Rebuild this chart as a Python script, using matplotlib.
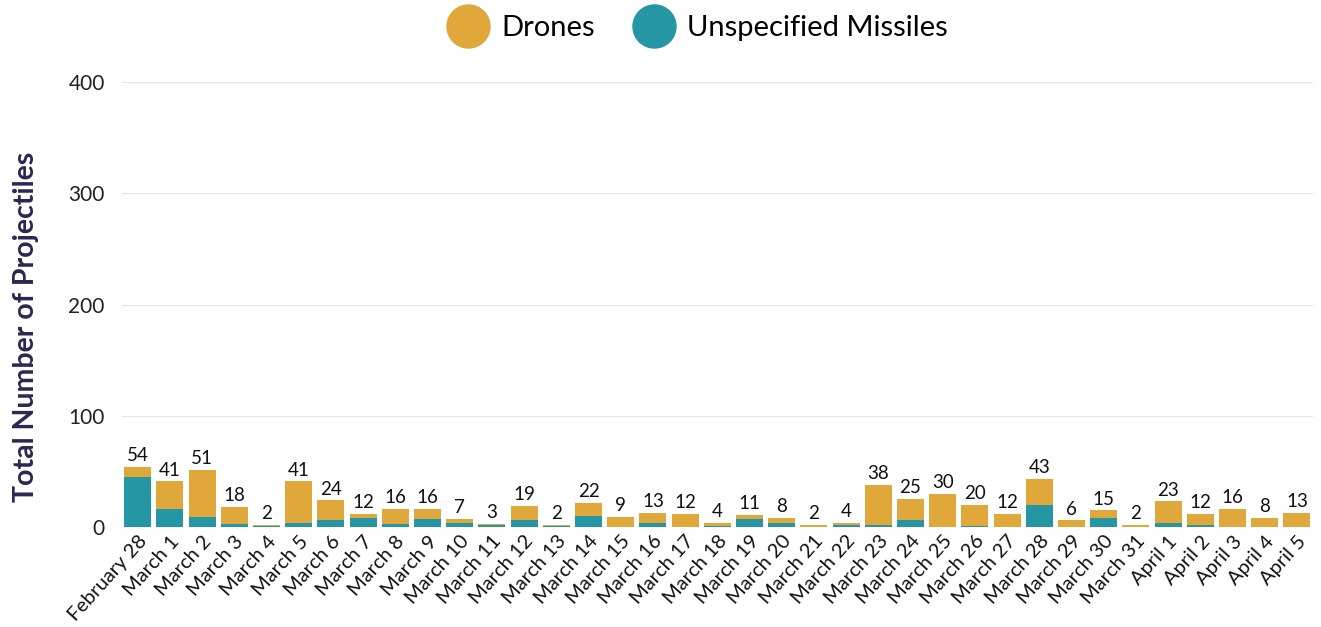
import matplotlib
matplotlib.use("Agg")
import matplotlib.pyplot as plt
from matplotlib.lines import Line2D
import numpy as np

# Data
dates = [
    "February 28", "March 1", "March 2", "March 3", "March 4", "March 5",
    "March 6", "March 7", "March 8", "March 9", "March 10", "March 11",
    "March 12", "March 13", "March 14", "March 15", "March 16", "March 17",
    "March 18", "March 19", "March 20", "March 21", "March 22", "March 23",
    "March 24", "March 25", "March 26", "March 27", "March 28", "March 29",
    "March 30", "March 31", "April 1", "April 2", "April 3", "April 4", "April 5",
]
missiles = [45, 16, 9, 3, 1, 4, 6, 8, 3, 7, 4, 2, 6, 1, 10, 0, 4, 0, 1, 7,
            4, 0, 2, 2, 6, 0, 1, 0, 20, 0, 8, 0, 4, 2, 0, 0, 0]
totals = [54, 41, 51, 18, 2, 41, 24, 12, 16, 16, 7, 3, 19, 2, 22, 9, 13, 12, 4,
          11, 8, 2, 4, 38, 25, 30, 20, 12, 43, 6, 15, 2, 23, 12, 16, 8, 13]
drones = [t - m for t, m in zip(totals, missiles)]

DRONE_COLOR = "#E0A83A"
MISSILE_COLOR = "#2596A4"
NAVY = "#2B2652"

plt.rcParams["font.family"] = ["Lato", "DejaVu Sans"]

fig = plt.figure(figsize=(13.21, 6.27), dpi=100)
ax = fig.add_axes([0.092, 0.1595, 0.902, 0.7097])

x = np.arange(len(dates))
w = 0.84
ax.bar(x, missiles, width=w, color=MISSILE_COLOR, zorder=3)
ax.bar(x, drones, width=w, bottom=missiles, color=DRONE_COLOR, zorder=3)

for xi, t in zip(x, totals):
    ax.text(xi, t + 2.5, str(t), ha="center", va="bottom", fontsize=13.5,
            color="#111111")

ax.set_ylim(0, 400)
ax.set_xlim(-0.5, len(dates) - 0.5)
ax.set_yticks([0, 100, 200, 300, 400])
ax.yaxis.grid(True, color="#E6E6E6", linewidth=0.9, zorder=0)
ax.tick_params(axis="y", length=0, pad=12, labelsize=15, labelcolor="#222222")
ax.tick_params(axis="x", length=0, pad=4, labelsize=14.5, labelcolor="#111111")
ax.set_xticks(x)
ax.set_xticklabels(dates, rotation=48, ha="right", rotation_mode="anchor")
for s in ax.spines.values():
    s.set_visible(False)

ax.set_ylabel("Total Number of Projectiles", fontsize=20.5, fontweight="bold",
              color=NAVY, va="center")
ax.yaxis.set_label_coords(-0.080, 0.449)

handles = [
    Line2D([], [], marker="o", linestyle="none", markersize=32,
           markerfacecolor=DRONE_COLOR, markeredgecolor="none", label="Drones"),
    Line2D([], [], marker="o", linestyle="none", markersize=32,
           markerfacecolor=MISSILE_COLOR, markeredgecolor="none",
           label="Unspecified Missiles"),
]
fig.legend(handles=handles, loc="center", bbox_to_anchor=(0.525, 0.955),
           ncol=2, frameon=False, fontsize=21, handletextpad=0.15,
           columnspacing=1.0)

fig.savefig("out.png", dpi=100, facecolor="white")
